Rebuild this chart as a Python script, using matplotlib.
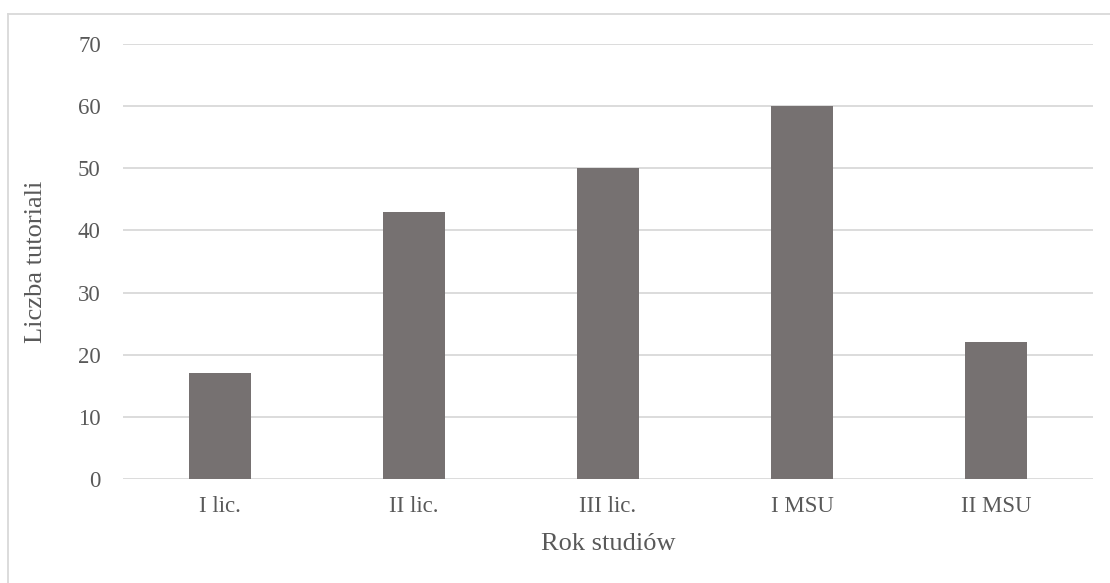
import matplotlib.pyplot as plt
from matplotlib.lines import Line2D

# Liczba tutoriali wg roku studiów
years = ['I lic.', 'II lic.', 'III lic.', 'I MSU', 'II MSU']
counts = [17, 43, 50, 60, 22]
yticks = [0, 10, 20, 30, 40, 50, 60, 70]

plt.rcParams['font.family'] = ['Liberation Serif', 'DejaVu Serif']
text_color = '#595959'

fig = plt.figure(figsize=(11.1, 5.83), dpi=100)
ax = fig.add_axes([123 / 1110, 1 - 479 / 583, 970 / 1110, 435 / 583])

x = range(len(years))
ax.bar(x, counts, width=0.32, color='#767171', zorder=3)

ax.set_xlim(-0.5, len(years) - 0.5)
ax.set_ylim(0, 70)
ax.set_yticks(yticks)
ax.set_xticks(list(x))
ax.set_xticklabels(years)
ax.grid(axis='y', color='#d9d9d9', linewidth=1.3, zorder=0)
ax.tick_params(axis='both', length=0, labelsize=16.5, colors=text_color)
ax.tick_params(axis='y', pad=16)
ax.tick_params(axis='x', pad=12)
for s in ax.spines.values():
    s.set_visible(False)

ax.set_xlabel('Rok studiów', fontsize=19, color=text_color, labelpad=12)
ax.set_ylabel('Liczba tutoriali', fontsize=19, color=text_color, labelpad=22)

# ramka wykresu (górna i lewa krawędź)
fig.add_artist(Line2D([8 / 1110, 1], [1 - 14 / 583, 1 - 14 / 583],
                      transform=fig.transFigure, color='#d9d9d9', linewidth=1.3))
fig.add_artist(Line2D([8 / 1110, 8 / 1110], [0, 1 - 14 / 583],
                      transform=fig.transFigure, color='#d9d9d9', linewidth=1.3))

fig.savefig('out.png', dpi=100)
